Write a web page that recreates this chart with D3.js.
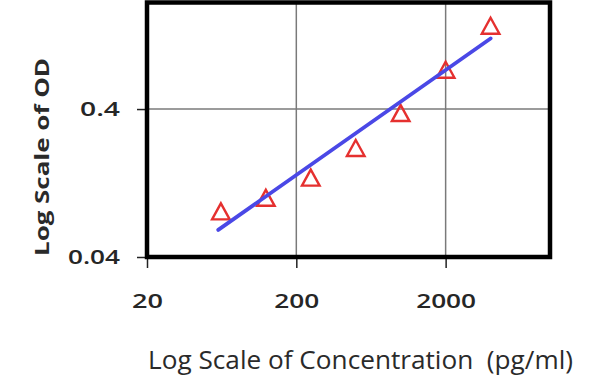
<!DOCTYPE html>
<html>
<head>
<meta charset="utf-8">
<script src="https://cdn.jsdelivr.net/npm/d3@7"></script>
<style>
  html, body { margin: 0; padding: 0; background: #ffffff; }
  svg { display: block; }
  text { font-family: "Open Sans", "Noto Sans", sans-serif; }
</style>
</head>
<body>
<svg id="chart" width="600" height="375"></svg>
<script>
// ---- data ----
const concentration = [62.5, 125, 250, 500, 1000, 2000, 4000];   // pg/ml
const odValues      = [0.081, 0.100, 0.137, 0.217, 0.374, 0.734, 1.455];
const trendConc     = [60, 4000];
const trendOD       = [0.061, 1.20];
const xTicks        = [20, 200, 2000];
const yTicks        = [0.04, 0.4];
const xTickLabels   = ["20", "200", "2000"];
const yTickLabels   = ["0.04", "0.4"];
const xDomain       = [20, 10000];
const yDomain       = [0.04, 2.1];
const xTitle        = "Log Scale of Concentration  (pg/ml)";
const yTitle        = "Log Scale of OD";

// ---- layout ----
const plot = { left: 147, right: 550, top: 2.5, bottom: 257 };
const svg = d3.select("#chart");

const x = d3.scaleLog().domain(xDomain).range([plot.left, plot.right]);
const y = d3.scaleLog().domain(yDomain).range([plot.bottom, plot.top]);

// gridlines
const grid = svg.append("g");
grid.selectAll("line.vg").data(xTicks).join("line")
  .attr("x1", d => x(d)).attr("x2", d => x(d))
  .attr("y1", plot.top).attr("y2", plot.bottom)
  .attr("stroke", "#7a7a7a").attr("stroke-width", 1.5);
grid.selectAll("line.hg").data(yTicks).join("line")
  .attr("x1", plot.left).attr("x2", plot.right)
  .attr("y1", d => y(d)).attr("y2", d => y(d))
  .attr("stroke", "#7a7a7a").attr("stroke-width", 1.5);

// axes
const xAxis = d3.axisBottom(x).tickValues(xTicks)
  .tickFormat((d, i) => xTickLabels[i]).tickSize(11).tickPadding(31).tickSizeOuter(0);
const gx = svg.append("g").attr("transform", `translate(0,${plot.bottom})`).call(xAxis);
gx.select(".domain").remove();
gx.selectAll(".tick line").attr("stroke", "#222").attr("stroke-width", 1.5);
const xLen = { "20": 31, "200": 45, "2000": 60 };
gx.selectAll(".tick text")
  .attr("dy", null).attr("y", 51)
  .attr("font-size", 19).attr("font-weight", 600).attr("fill", "#262626")
  .attr("textLength", (d, i) => xLen[xTickLabels[i]])
  .attr("lengthAdjust", "spacingAndGlyphs");

const yAxis = d3.axisLeft(y).tickValues(yTicks)
  .tickFormat((d, i) => yTickLabels[i]).tickSize(10).tickPadding(17).tickSizeOuter(0);
const gy = svg.append("g").attr("transform", `translate(${plot.left},0)`).call(yAxis);
gy.select(".domain").remove();
gy.selectAll(".tick line").attr("stroke", "#222").attr("stroke-width", 1.5);
const yLen = { "0.04": 52, "0.4": 40 };
gy.selectAll(".tick text")
  .attr("dy", "0.36em")
  .attr("font-size", 19).attr("font-weight", 600).attr("fill", "#262626")
  .attr("textLength", (d, i) => yLen[yTickLabels[i]])
  .attr("lengthAdjust", "spacingAndGlyphs");

// frame
svg.append("rect")
  .attr("x", plot.left).attr("y", plot.top)
  .attr("width", plot.right - plot.left).attr("height", plot.bottom - plot.top)
  .attr("fill", "none").attr("stroke", "#000").attr("stroke-width", 4.5);

// markers (hollow triangles)
const pts = concentration.map((c, i) => ({ c, od: odValues[i] }));
svg.append("g").selectAll("path").data(pts).join("path")
  .attr("transform", d => `translate(${x(d.c)},${y(d.od)})`)
  .attr("d", "M0,-8.3L8.8,7.7L-8.8,7.7Z")
  .attr("fill", "none").attr("stroke", "#e5302f").attr("stroke-width", 2.4)
  .attr("stroke-linejoin", "miter");

// trend line
const trend = trendConc.map((c, i) => ({ c, od: trendOD[i] }));
svg.append("path").datum(trend)
  .attr("d", d3.line().x(d => x(d.c)).y(d => y(d.od)))
  .attr("fill", "none").attr("stroke", "#4a48e6").attr("stroke-width", 3.8)
  .attr("stroke-linecap", "round");

// axis titles
svg.append("text")
  .attr("x", 148).attr("y", 369)
  .attr("font-size", 25).attr("fill", "#2a2a2a")
  .style("white-space", "pre")
  .attr("textLength", 425).attr("lengthAdjust", "spacingAndGlyphs")
  .text(xTitle);

svg.append("text")
  .attr("transform", "translate(49,157) rotate(-90)")
  .attr("text-anchor", "middle")
  .attr("font-size", 20).attr("font-weight", "bold").attr("fill", "#2a2a2a")
  .attr("textLength", 198).attr("lengthAdjust", "spacingAndGlyphs")
  .text(yTitle);
</script>
</body>
</html>
